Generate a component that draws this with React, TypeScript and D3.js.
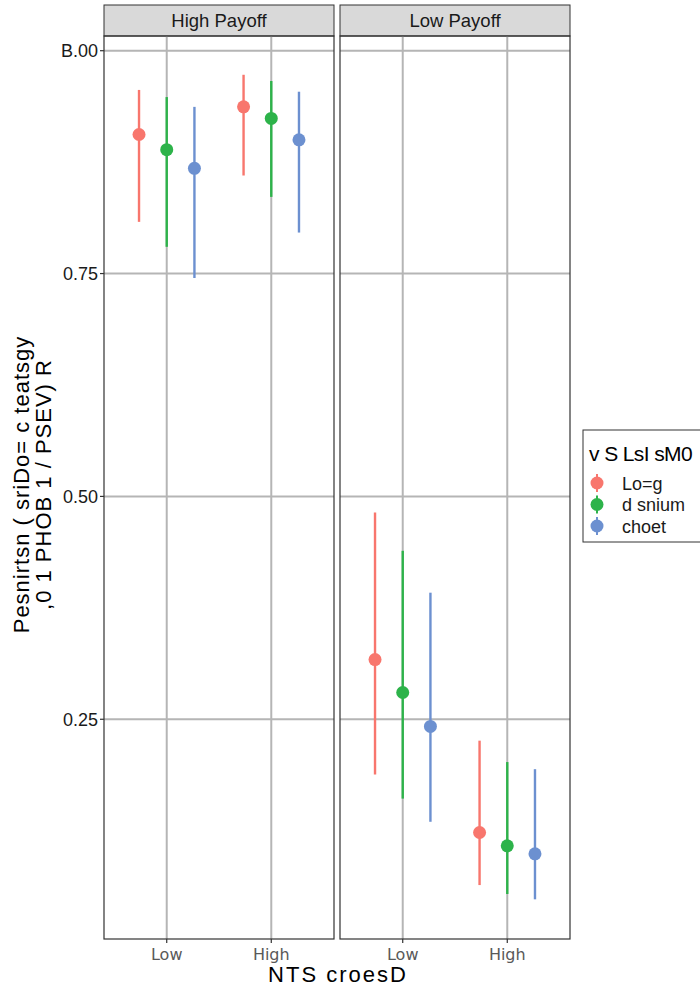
import React from "react";
import * as d3 from "d3";

const panels = ["High Payoff", "Low Payoff"];
const xCategories = ["Low", "High"];
const seriesNames = ["Lo=g", "d snium", "choet"];
const seriesColors = ["#F8766D", "#2DB34A", "#6C90D0"];
const yTicks = [0.25, 0.5, 0.75, 1.0];
const yTickLabels = ["0.25", "0.50", "0.75", "B.00"];

// [panel][category][series]
const estimates = [
  [[0.906, 0.889, 0.868], [0.937, 0.924, 0.9]],
  [[0.317, 0.28, 0.242], [0.123, 0.108, 0.099]],
];
const lowerBounds = [
  [[0.808, 0.78, 0.745], [0.86, 0.836, 0.796]],
  [[0.188, 0.161, 0.135], [0.064, 0.054, 0.048]],
];
const upperBounds = [
  [[0.956, 0.948, 0.937], [0.973, 0.966, 0.954]],
  [[0.482, 0.439, 0.392], [0.226, 0.202, 0.194]],
];

const W = 700;
const H = 989;
const panelTop = 36;
const panelBottom = 939;
const stripTop = 5;
const panelX = [104, 340];
const panelW = 230;
const FONT = "'Liberation Sans', Arial, sans-serif";

export default function App() {
  const y = d3.scaleLinear().domain([0.0035, 1.0165]).range([panelBottom, panelTop]);
  const dodge = 0.265;
  const gridColor = "#b5b5b5";

  return (
    <svg width={W} height={H} style={{ position: "absolute", left: 0, top: 0 }} fontFamily={FONT}>
      <rect width={W} height={H} fill="#fff" />
      {panels.map((p, pi) => {
        const x0 = panelX[pi];
        const x = d3.scaleLinear().domain([0.4, 2.6]).range([x0, x0 + panelW]);
        return (
          <g key={p}>
            <rect x={x0} y={stripTop} width={panelW} height={panelTop - stripTop} fill="#d9d9d9" stroke="#333" strokeWidth={1} />
            <text x={x0 + panelW / 2} y={(stripTop + panelTop) / 2 + 6.5} textAnchor="middle" fontSize={18.5} fill="#1a1a1a">{p}</text>
            {yTicks.map((t) => (
              <line key={t} x1={x0} x2={x0 + panelW} y1={y(t)} y2={y(t)} stroke={gridColor} strokeWidth={2} />
            ))}
            {xCategories.map((c, ci) => (
              <line key={c} x1={x(ci + 1)} x2={x(ci + 1)} y1={panelTop} y2={panelBottom} stroke={gridColor} strokeWidth={2} />
            ))}
            {xCategories.map((c, ci) =>
              seriesNames.map((s, si) => {
                const cx = x(ci + 1 + (si - 1) * dodge);
                return (
                  <g key={c + s}>
                    <line x1={cx} x2={cx} y1={y(lowerBounds[pi][ci][si])} y2={y(upperBounds[pi][ci][si])} stroke={seriesColors[si]} strokeWidth={2.4} />
                    <circle cx={cx} cy={y(estimates[pi][ci][si])} r={6.5} fill={seriesColors[si]} />
                  </g>
                );
              })
            )}
            <rect x={x0} y={panelTop} width={panelW} height={panelBottom - panelTop} fill="none" stroke="#333" strokeWidth={1.2} />
            {xCategories.map((c, ci) => (
              <g key={c}>
                <line x1={x(ci + 1)} x2={x(ci + 1)} y1={panelBottom} y2={panelBottom + 4} stroke="#333" strokeWidth={1.2} />
                <text x={x(ci + 1)} y={panelBottom + 21} textAnchor="middle" fontSize={16} fill="#595959" fontFamily="'DejaVu Sans', sans-serif">{c}</text>
              </g>
            ))}
          </g>
        );
      })}
      {yTicks.map((t, i) => (
        <g key={t}>
          <line x1={panelX[0] - 4} x2={panelX[0]} y1={y(t)} y2={y(t)} stroke="#333" strokeWidth={1.2} />
          <text x={panelX[0] - 6} y={y(t) + 6.5} textAnchor="end" fontSize={18} fill="#1a1a1a">{yTickLabels[i]}</text>
        </g>
      ))}
      <g transform={`translate(29, ${(panelTop + panelBottom) / 2 - 3}) rotate(-90)`}>
        <text x={0} y={0} textAnchor="middle" fontSize={22} fill="#000" letterSpacing={1}>Pesnirtsn ( sriDo= c teatsgy</text>
        <text x={0} y={22} textAnchor="middle" fontSize={22} fill="#000" letterSpacing={1}>,0 1 PHOB 1 / PSEV) R</text>
      </g>
      <text x={338} y={982} textAnchor="middle" fontSize={22} fill="#000" letterSpacing={2}>NTS croesD</text>
      <rect x={583} y={430} width={130} height={112} fill="#fff" stroke="#333" strokeWidth={1} />
      <text x={589} y={461} fontSize={21} fill="#000" letterSpacing={-0.6}>v S LsI sM0</text>
      {seriesNames.map((s, si) => {
        const ly = 483 + si * 21.5;
        return (
          <g key={s}>
            <line x1={597} x2={597} y1={ly - 9} y2={ly + 9} stroke={seriesColors[si]} strokeWidth={2} />
            <circle cx={597} cy={ly} r={6.5} fill={seriesColors[si]} />
            <text x={622} y={ly + 6.5} fontSize={18} fill="#1a1a1a">{s}</text>
          </g>
        );
      })}
    </svg>
  );
}
